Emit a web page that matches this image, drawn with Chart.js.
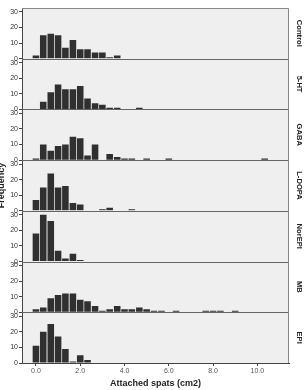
<!doctype html>
<html lang="en">
<head>
<meta charset="utf-8">
<title>Attached spats by treatment</title>
<script src="https://cdn.jsdelivr.net/npm/chart.js"></script>
<style>
  html,body{margin:0;padding:0;background:#fff}
  canvas{display:block}
</style>
</head>
<body>
<canvas id="chart" width="308" height="390"></canvas>

<script>
/* ---------- data (counts per 1/3 cm2 bin) ---------------------------- */
const bins   =[0.00,0.33,0.67,1.00,1.33,1.67,2.00,2.33,2.67,3.00,3.33,3.67,4.00,4.33,4.67,5.00,
               5.33,5.67,6.00,6.33,6.67,7.00,7.33,7.67,8.00,8.33,8.67,9.00,9.33,9.67,10.00,10.33];
const groups =['Control','5-HT','GABA','L-DOPA','NorEPI','MB','EPI'];

const control=[2,15,16,15,7,12,6,6,4,4,1,2];
const ht5    =[0,5,11,16,13,13,15,7,4,3,1,1,0,0,1];
const gaba   =[1,10,6,9,10,15,14,3,10,0,4,2,1,1,0,1,0,0,1,0,0,0,0,0,0,0,0,0,0,0,0,1];
const ldopa  =[7,15,24,15,16,5,4,0,0,1,2,0,0,1];
const norepi =[18,30,26,7,2,5,1];
const mb     =[2,3,9,11,12,12,8,7,4,1,2,4,2,2,3,2,1,1,0,1,0,0,0,1,1,1,0,1];
const epi    =[11,20,25,17,9,1,5,2];
const counts =[control,ht5,gaba,ldopa,norepi,mb,epi];

const xTicks =[0,2,4,6,8,10];
const yTicks =[0,10,20,30];
const xTitle ='Attached spats (cm2)';
const yTitle ='Frequency';

/* ---------- style ----------------------------------------------------- */
const FONT ='"Liberation Sans", Arial, sans-serif';
Chart.defaults.font.family=FONT;

/* ---------- datasets + stacked y axes -------------------------------- */
const datasets=counts.map((arr,i)=>({
  label:groups[i],
  yAxisID:'y'+i,
  data:arr.map((v,k)=>({x:bins[k],y:v})).filter(p=>p.y>0),
  backgroundColor:'#303030',
  borderWidth:0,
  grouped:false,
  barPercentage:0.9,
  categoryPercentage:1
}));

const scales={
  x:{type:'linear',position:'bottom',min:-0.63,max:11.43,offset:false,
     afterBuildTicks:s=>{s.ticks=xTicks.map(v=>({value:v}));},
     ticks:{callback:v=>v.toFixed(1),font:{size:7},color:'#555',padding:1,maxRotation:0},
     grid:{drawOnChartArea:false,offset:false,tickLength:3,color:'#444'},
     border:{color:'#444'},
     title:{display:true,text:xTitle,font:{size:9,weight:'bold'},color:'#222',padding:{top:0,bottom:1}},
     afterFit:s=>{s.height=27;}}
};
groups.forEach((g,i)=>{
  scales['y'+i]={type:'linear',position:'left',stack:'panels',stackWeight:1,weight:groups.length-i,
     min:0,max:32.5,offset:false,
     afterBuildTicks:s=>{s.ticks=yTicks.map(v=>({value:v}));},
     ticks:{font:{size:7},color:'#333',padding:1,autoSkip:false},
     grid:{drawOnChartArea:false,tickLength:3,color:'#444'},
     border:{color:'#444'},
     afterFit:s=>{s.width=22;}};
});

/* ---------- panel background, frames, strip + axis labels ------------ */
const panels={
  id:'panels',
  beforeDraw(c){
    const a=c.chartArea,ctx=c.ctx;
    ctx.save();
    ctx.fillStyle='#efefef';
    ctx.fillRect(a.left,a.top,a.right-a.left,a.bottom-a.top);
    ctx.restore();
  },
  afterDatasetsDraw(c){
    const a=c.chartArea,ctx=c.ctx;
    ctx.save();
    ctx.strokeStyle='#666';ctx.lineWidth=1;
    groups.forEach((g,i)=>{
      const s=c.scales['y'+i];
      if(i===groups.length-1) return;
      const y=Math.round(s.bottom)+0.5;
      ctx.beginPath();ctx.moveTo(a.left,y);ctx.lineTo(a.right,y);ctx.stroke();
    });
    ctx.strokeStyle='#888';
    ctx.beginPath();
    ctx.moveTo(a.left,Math.round(a.top)+0.5);
    ctx.lineTo(Math.round(a.right)-0.5,Math.round(a.top)+0.5);
    ctx.lineTo(Math.round(a.right)-0.5,a.bottom);
    ctx.stroke();
    ctx.restore();
  },
  afterDraw(c){
    const a=c.chartArea,ctx=c.ctx;
    ctx.save();
    ctx.fillStyle='#222';
    ctx.font='bold 7.6px '+FONT;
    ctx.textAlign='center';ctx.textBaseline='middle';
    groups.forEach((g,i)=>{
      const s=c.scales['y'+i];
      ctx.save();
      ctx.translate(a.right+10,(s.top+s.bottom)/2);
      ctx.rotate(Math.PI/2);
      ctx.fillText(g,0,0);
      ctx.restore();
    });
    ctx.font='bold 9px '+FONT;
    ctx.textBaseline='alphabetic';
    ctx.translate(4,(a.top+a.bottom)/2);
    ctx.rotate(-Math.PI/2);
    ctx.fillText(yTitle,0,0);
    ctx.restore();
  }
};

/* ---------- chart ----------------------------------------------------- */
new Chart(document.getElementById('chart'),{
  type:'bar',
  data:{datasets},
  options:{
    responsive:false,
    animation:false,
    devicePixelRatio:1,
    layout:{padding:{top:8,right:19,left:0,bottom:0}},
    plugins:{legend:{display:false},tooltip:{enabled:false}},
    scales
  },
  plugins:[panels]
});
</script>
</body>
</html>
